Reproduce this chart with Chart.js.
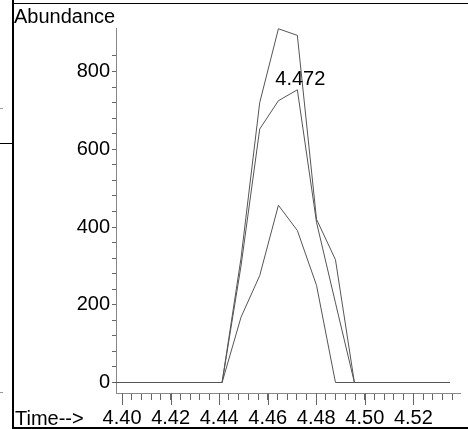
<!DOCTYPE html>
<html lang="en">
<head>
  <meta charset="UTF-8" />
  <title>Abundance vs Time</title>
  <script src="https://cdn.jsdelivr.net/npm/chart.js"></script>
  <style>
    body { margin: 0; background: #fff; }
    #wrap { position: relative; width: 468px; height: 429px; overflow: hidden; }
    #chart { position: absolute; left: 0; top: 0; }
    .rule { position: absolute; background: #000; }
  </style>
</head>
<body>
  <div id="wrap">
    <canvas id="chart" width="468" height="429"></canvas>
    <!-- window frame bits left over from the screenshot -->
    <div class="rule" style="left:12px; top:0; width:2px; height:429px;"></div>
    <div class="rule" style="left:13px; top:3px; right:0; height:1px;"></div>
    <div class="rule" style="left:13px; top:427px; right:0; height:2px;"></div>
    <div class="rule" style="left:0; top:143px; width:13px; height:1px;"></div>
    <div class="rule" style="left:0; top:108px; width:3px; height:1px; background:#999;"></div>
    <div class="rule" style="left:0; top:392px; width:3px; height:1px; background:#999;"></div>
  </div>

  <script>
    // retention times (min) and the three ion traces
    const times  = [4.3972, 4.4412, 4.4490, 4.4567, 4.4644, 4.4722, 4.4801, 4.4879, 4.4957, 4.5351];
    const traceA = [0, 0, 320, 720, 910, 893, 420, 316, 0, 0];
    const traceB = [0, 0, 300, 652, 725, 753, 412, 205, 0, 0];
    const traceC = [0, 0, 168, 275, 456, 391, 250, 0, 0, 0];

    const xLabels = ['4.40', '4.42', '4.44', '4.46', '4.48', '4.50', '4.52'];
    const yLabels = [0, 200, 400, 600, 800];
    const peakLabel = '4.472';
    const peakIndex = 5;   // apex of trace B

    const FONT = '"Liberation Sans", Arial, sans-serif';
    const lineColor = '#555';
    const axisColor = '#888';
    const tickColor = '#666';

    // minor ticks every 0.004 on x, every 40 on y
    const xTickVals = [];
    for (let i = 0; i <= 34; i++) xTickVals.push(+(4.40 + i * 0.004).toFixed(3));
    const yTickVals = [];
    for (let v = 0; v <= 840; v += 40) yTickVals.push(v);

    function toPoints(values) {
      return times.map((t, i) => ({ x: t, y: values[i] }));
    }

    const overlay = {
      id: 'overlay',
      afterDraw(chart) {
        const ctx = chart.ctx;
        const xs = chart.scales.x;
        ctx.save();
        // longer major ticks
        ctx.strokeStyle = tickColor;
        ctx.lineWidth = 1;
        xLabels.forEach(l => {
          const px = Math.round(xs.getPixelForValue(parseFloat(l))) + 0.5;
          ctx.beginPath();
          ctx.moveTo(px, xs.top);
          ctx.lineTo(px, xs.top + 12);
          ctx.stroke();
        });
        ctx.fillStyle = '#000';
        ctx.font = '20px ' + FONT;
        ctx.textAlign = 'left';
        ctx.textBaseline = 'alphabetic';
        ctx.fillText('Abundance', 14, 23);
        ctx.fillText('Time-->', 15, 425);
        const pt = chart.getDatasetMeta(1).data[peakIndex];
        ctx.textAlign = 'center';
        ctx.fillText(peakLabel, pt.x + 3, pt.y - 5);
        ctx.restore();
      }
    };

    const ds = (data) => ({
      data: toPoints(data),
      showLine: true,
      borderColor: lineColor,
      borderWidth: 1,
      pointRadius: 0,
      tension: 0,
      clip: false
    });

    new Chart(document.getElementById('chart'), {
      type: 'scatter',
      data: { datasets: [ds(traceA), ds(traceB), ds(traceC)] },
      options: {
        responsive: false,
        animation: false,
        devicePixelRatio: 1,
        layout: { padding: { top: 28, right: 8, left: 0, bottom: 0 } },
        plugins: { legend: { display: false }, tooltip: { enabled: false } },
        scales: {
          x: {
            type: 'linear',
            min: 4.3975,
            max: 4.5392,
            afterBuildTicks: s => { s.ticks = xTickVals.map(v => ({ value: v })); },
            afterFit: s => { s.height = 36; },
            grid: { drawOnChartArea: false, tickLength: 7, tickColor: tickColor },
            border: { color: axisColor },
            ticks: {
              autoSkip: false,
              maxRotation: 0,
              padding: 6,
              color: '#000',
              font: { family: FONT, size: 20 },
              callback: v => xLabels.find(l => Math.abs(parseFloat(l) - v) < 1e-6) || ''
            }
          },
          y: {
            min: -27,
            max: 912,
            afterBuildTicks: s => { s.ticks = yTickVals.map(v => ({ value: v })); },
            afterFit: s => { s.width = 116; },
            grid: { drawOnChartArea: false, tickLength: 4, tickColor: tickColor },
            border: { color: axisColor },
            ticks: {
              autoSkip: false,
              padding: 2,
              color: '#000',
              font: { family: FONT, size: 20 },
              callback: v => yLabels.includes(v) ? String(v) : ''
            }
          }
        }
      },
      plugins: [overlay]
    });
  </script>
</body>
</html>
